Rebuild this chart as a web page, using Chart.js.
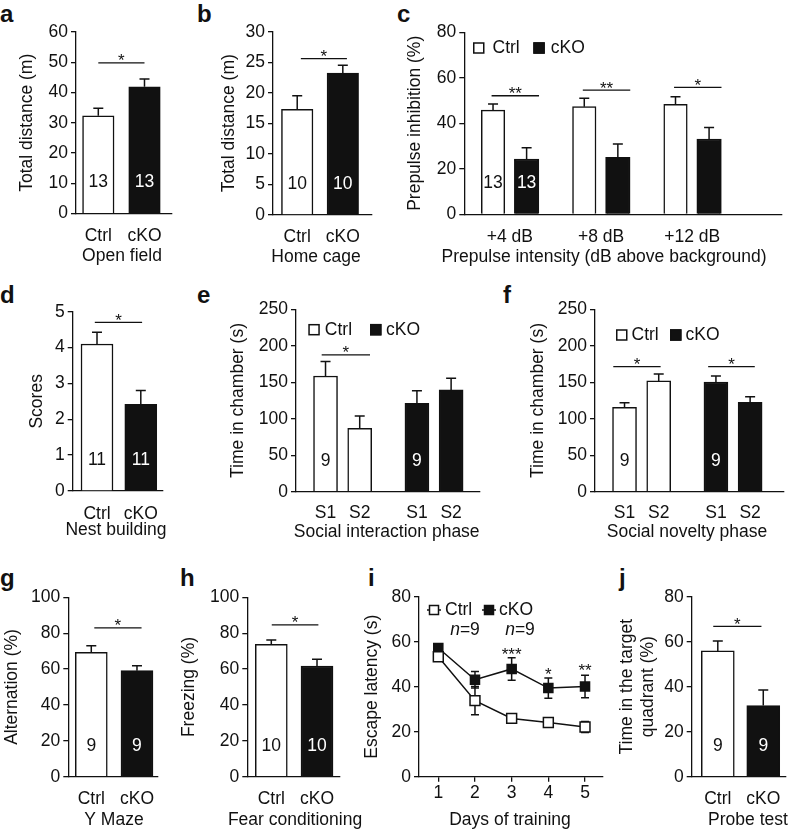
<!DOCTYPE html>
<html>
<head>
<meta charset="utf-8">
<script src="https://cdn.jsdelivr.net/npm/chart.js@4.4.0/dist/chart.umd.min.js"></script>
<style>
html,body{margin:0;padding:0;background:#fff;overflow:hidden;}
body{width:788px;height:830px;position:relative;font-family:"Liberation Sans",Arial,Helvetica,sans-serif;}
canvas{position:absolute;}
.lab{position:absolute;font-weight:bold;font-size:24px;line-height:24px;color:#111;}
</style>
</head>
<body>
<div class="lab" style="left:0px;top:2px">a</div>
<div class="lab" style="left:197px;top:2px">b</div>
<div class="lab" style="left:397px;top:2px">c</div>
<div class="lab" style="left:0px;top:283px">d</div>
<div class="lab" style="left:197px;top:283px">e</div>
<div class="lab" style="left:503px;top:283px">f</div>
<div class="lab" style="left:0px;top:566px">g</div>
<div class="lab" style="left:180px;top:566px">h</div>
<div class="lab" style="left:368px;top:566px">i</div>
<div class="lab" style="left:619px;top:566px">j</div>
<script>
// ---------------- data ----------------
const groups = ['Ctrl', 'cKO'];
// a  Open field
const openFieldMean = [32.3, 41.9];
const openFieldSem = [2.5, 2.6];
const openFieldN = [13, 13];
// b  Home cage
const homeCageMean = [17.3, 23.2];
const homeCageSem = [2.2, 1.3];
const homeCageN = [10, 10];
// c  Prepulse inhibition
const ppiLevels = ['+4 dB', '+8 dB', '+12 dB'];
const ppiCtrl = [45.8, 47.3, 48.3];
const ppiCtrlSem = [2.7, 3.7, 3.4];
const ppiCko = [24.3, 25.0, 33.1];
const ppiCkoSem = [5.0, 5.9, 5.1];
const ppiN = [13, 13];
const ppiSig = ['**', '**', '*'];
// d  Nest building
const nestMean = [4.1, 2.42];
const nestSem = [0.33, 0.38];
const nestN = [11, 11];
// e  Social interaction
const chambers = ['S1', 'S2'];
const socialCtrl = [158.6, 86.9];
const socialCtrlSem = [19.7, 16.9];
const socialCko = [121.2, 139.5];
const socialCkoSem = [17.3, 16.0];
const socialN = [9, 9];
// f  Social novelty
const noveltyCtrl = [115.7, 151.8];
const noveltyCtrlSem = [6.3, 9.6];
const noveltyCko = [150.4, 122.6];
const noveltyCkoSem = [8.2, 7.7];
const noveltyN = [9, 9];
// g  Y maze
const yMazeMean = [69.3, 59.1];
const yMazeSem = [3.7, 2.8];
const yMazeN = [9, 9];
// h  Fear conditioning
const fearMean = [73.8, 61.7];
const fearSem = [2.4, 3.7];
const fearN = [10, 10];
// i  Escape latency
const days = [1, 2, 3, 4, 5];
const latencyCtrl = [53.3, 33.8, 25.9, 24.1, 22.1];
const latencyCtrlSem = [1.5, 6.3, 1.5, 1.0, 2.4];
const latencyCko = [57.2, 43.1, 47.9, 39.4, 40.1];
const latencyCkoSem = [1.3, 3.7, 5.0, 4.5, 5.0];
const latencySig = ['', '', '***', '*', '**'];
const latencyN = [9, 9];
// j  Probe test
const probeMean = [55.9, 31.6];
const probeSem = [4.4, 6.9];
const probeN = [9, 9];

// ---------------- style ----------------
const FAM = '"Liberation Sans", Arial, Helvetica, sans-serif';
const INK = '#111111';
const FS = 17.5;
const LH = FS * 1.2;
Chart.defaults.font.family = FAM;
Chart.defaults.font.size = FS;
Chart.defaults.color = INK;
const measureCtx = document.createElement('canvas').getContext('2d');

function barStyle(i, w) {
  return {backgroundColor: i ? INK : '#ffffff', borderColor: INK, borderWidth: 1.5,
          barThickness: w, grouped: false};
}
function twoBars(mean, sem, w) {
  return [0, 1].map(i => Object.assign({
    label: groups[i], data: [{x: i, y: mean[i]}], errors: [sem[i]]
  }, barStyle(i, w)));
}
function nPair(n, xs) {
  return [{x: xs[0], t: n[0], white: false}, {x: xs[1], t: n[1], white: true}];
}

function makeDeco(p) {
  return {
    id: 'deco',
    beforeDatasetsDraw(chart) {
      const ctx = chart.ctx, ys = chart.scales.y;
      ctx.save();
      ctx.strokeStyle = INK; ctx.lineWidth = 1.5;
      chart.data.datasets.forEach((ds, di) => {
        if (!ds.errors) return;
        chart.getDatasetMeta(di).data.forEach((el, k) => {
          const v = ds.data[k].y, e = ds.errors[k];
          const x = el.x, cap = p.cap || 5;
          const yHi = ys.getPixelForValue(v + e);
          const yLo = p.twoSided ? ys.getPixelForValue(v - e) : el.y;
          ctx.beginPath();
          ctx.moveTo(x, yLo); ctx.lineTo(x, yHi);
          ctx.moveTo(x - cap, yHi); ctx.lineTo(x + cap, yHi);
          if (p.twoSided) { ctx.moveTo(x - cap, yLo); ctx.lineTo(x + cap, yLo); }
          ctx.stroke();
        });
      });
      ctx.restore();
    },
    afterDatasetsDraw(chart) {
      const ctx = chart.ctx, ca = chart.chartArea;
      const xs = chart.scales.x, ys = chart.scales.y;
      ctx.save();
      ctx.fillStyle = INK; ctx.strokeStyle = INK;
      (p.sig || []).forEach(s => {
        const y = ys.getPixelForValue(s.y);
        ctx.lineWidth = 1.3;
        ctx.beginPath();
        ctx.moveTo(xs.getPixelForValue(s.x0), y);
        ctx.lineTo(xs.getPixelForValue(s.x1), y);
        ctx.stroke();
        ctx.font = '17px ' + FAM; ctx.textAlign = 'center'; ctx.textBaseline = 'alphabetic';
        ctx.fillText(s.t, xs.getPixelForValue((s.x0 + s.x1) / 2), y + 3.5);
      });
      (p.stars || []).forEach(s => {
        ctx.font = '17px ' + FAM; ctx.textAlign = 'center'; ctx.textBaseline = 'alphabetic';
        ctx.fillText(s.t, xs.getPixelForValue(s.x), ys.getPixelForValue(s.y) + 9.7);
      });
      ctx.font = FS + 'px ' + FAM; ctx.textAlign = 'center'; ctx.textBaseline = 'middle';
      (p.nLabels || []).forEach(n => {
        ctx.fillStyle = n.white ? '#ffffff' : INK;
        ctx.fillText(String(n.t), xs.getPixelForValue(n.x), ca.bottom - 31);
      });
      if (p.legend) {
        const L = p.legend, y = ca.top + L.dy, s = 11.5;
        L.items.forEach(it => {
          const x = ca.left + it.dx;
          ctx.lineWidth = 1.5;
          ctx.fillStyle = it.fill;
          ctx.fillRect(x, y - s / 2, s, s);
          ctx.strokeStyle = INK;
          ctx.strokeRect(x + 0.75, y - s / 2 + 0.75, s - 1.5, s - 1.5);
          ctx.fillStyle = INK; ctx.textAlign = 'left'; ctx.textBaseline = 'middle';
          ctx.font = FS + 'px ' + FAM;
          ctx.fillText(it.label, x + s + it.gap, y + 0.5);
        });
      }
      if (p.lineLegend) {
        const L = p.lineLegend, y = ca.top + L.dy;
        L.items.forEach(it => {
          const cx = ca.left + it.dx;
          ctx.strokeStyle = INK; ctx.lineWidth = 1.5;
          ctx.beginPath(); ctx.moveTo(cx - 7, y); ctx.lineTo(cx + 7, y); ctx.stroke();
          ctx.fillStyle = it.fill; ctx.fillRect(cx - 4.5, y - 4.5, 9, 9);
          ctx.strokeRect(cx - 4.5, y - 4.5, 9, 9);
          ctx.fillStyle = INK; ctx.textAlign = 'left'; ctx.textBaseline = 'middle';
          ctx.font = FS + 'px ' + FAM;
          ctx.fillText(it.label, ca.left + it.tx, y + 0.5);
        });
        (L.nTexts || []).forEach(nt => {
          const cx = ca.left + nt.dx, yy = ca.top + nt.dy;
          ctx.font = 'italic ' + FS + 'px ' + FAM;
          const w1 = ctx.measureText('n').width;
          ctx.font = FS + 'px ' + FAM;
          const rest = '=' + nt.n;
          const w2 = ctx.measureText(rest).width;
          const x0 = cx - (w1 + w2) / 2;
          ctx.textAlign = 'left'; ctx.textBaseline = 'middle';
          ctx.font = 'italic ' + FS + 'px ' + FAM;
          ctx.fillText('n', x0, yy);
          ctx.font = FS + 'px ' + FAM;
          ctx.fillText(rest, x0 + w1, yy);
        });
      }
      ctx.restore();
    },
    afterDraw(chart) {
      // x-axis title, centred where the reference has it (no width clamp)
      const ctx = chart.ctx;
      ctx.save();
      ctx.fillStyle = INK; ctx.font = FS + 'px ' + FAM;
      ctx.textAlign = 'center'; ctx.textBaseline = 'middle';
      ctx.fillText(p.xTitle, p.xTitleX - p._left, p.xTitleY - p._top);
      ctx.restore();
    }
  };
}

function makePanel(p) {
  measureCtx.font = FS + 'px ' + FAM;
  const tw = measureCtx.measureText(p.xTitle).width;
  const yTitleLeft = p.yTitleX - LH / 2;
  const left = Math.floor(Math.min(yTitleLeft, p.xTitleX - tw / 2 - 4));
  const top = Math.round(p.plotT - 16);
  const right = Math.ceil(Math.max(p.plotR + 10, p.xTitleX + tw / 2 + 4));
  const bottom = Math.round(p.xTitleY + LH / 2 + 2);
  const padLeft = yTitleLeft - left;
  p._left = left; p._top = top;
  const cv = document.createElement('canvas');
  cv.width = right - left; cv.height = bottom - top;
  cv.style.left = left + 'px'; cv.style.top = top + 'px';
  cv.style.width = (right - left) + 'px'; cv.style.height = (bottom - top) + 'px';
  document.body.appendChild(cv);
  new Chart(cv, {
    type: p.type || 'bar',
    data: {datasets: p.datasets},
    options: {
      responsive: false, maintainAspectRatio: false, animation: false, devicePixelRatio: 1,
      layout: {padding: {left: padLeft, top: p.plotT - top, right: right - p.plotR, bottom: 0}},
      plugins: {legend: {display: false}, tooltip: {enabled: false}},
      scales: {
        x: {
          type: 'linear', min: p.xMin, max: p.xMax, offset: false,
          grid: {display: !!p.xTickMarks, drawOnChartArea: false, drawTicks: true, tickLength: 5,
                 color: INK, lineWidth: 1.3, offset: false},
          border: {display: true, color: INK, width: 1.3},
          ticks: {padding: p.tickPad, autoSkip: false, maxRotation: 0, minRotation: 0, color: INK,
                  font: {size: FS}, callback: (v, i) => p.xLabels[i]},
          afterBuildTicks: (s) => { s.ticks = p.xTickPos.map(v => ({value: v})); },
          afterFit: (s) => { s.height = bottom - p.plotB; },
          title: {display: false}
        },
        y: {
          min: 0, max: p.yMax,
          ticks: {stepSize: p.step, padding: 3, color: INK, font: {size: FS}},
          grid: {drawOnChartArea: false, drawTicks: true, tickLength: 5, color: INK, lineWidth: 1.3},
          border: {display: true, color: INK, width: 1.3},
          afterFit: (s) => { s.width = p.plotL - yTitleLeft; },
          title: {display: true, text: p.yTitle, color: INK, font: {size: FS}, padding: {top: 0, bottom: 0}}
        }
      }
    },
    plugins: [makeDeco(p)]
  });
}

// ---------------- panels ----------------
const offC = 0.184, offEF = 0.187;

// a
makePanel({plotL: 76, plotR: 171.7, plotT: 32, plotB: 213.6, yTitleX: 26.7, xTitleY: 256.5, xTitleX: 122,
  xMin: -0.483, xMax: 1.589, yMax: 60, step: 10, tickPad: 7.5,
  xTickPos: [0, 1], xLabels: groups, yTitle: 'Total distance (m)', xTitle: 'Open field',
  datasets: twoBars(openFieldMean, openFieldSem, 31.5),
  sig: [{x0: 0, x1: 1, y: 49.8, t: '*'}], nLabels: nPair(openFieldN, [0, 1])});

// b
makePanel({plotL: 273, plotR: 372, plotT: 31.7, plotB: 214.8, yTitleX: 229.5, xTitleY: 257, xTitleX: 316,
  xMin: -0.531, xMax: 1.64, yMax: 30, step: 5, tickPad: 6.7,
  xTickPos: [0, 1], xLabels: groups, yTitle: 'Total distance (m)', xTitle: 'Home cage',
  datasets: twoBars(homeCageMean, homeCageSem, 31.5),
  sig: [{x0: 0.08, x1: 1.09, y: 25.6, t: '*'}], nLabels: nPair(homeCageN, [0, 1])});

// c
makePanel({plotL: 464.3, plotR: 781.7, plotT: 32.3, plotB: 214.3, yTitleX: 415.5, xTitleY: 256.7, xTitleX: 604,
  xMin: 0.501, xMax: 3.98, yMax: 80, step: 20, tickPad: 7,
  xTickPos: ppiLevels.map((c, i) => i + 1), xLabels: ppiLevels,
  yTitle: 'Prepulse inhibition (%)', xTitle: 'Prepulse intensity (dB above background)',
  datasets: [
    Object.assign({label: 'Ctrl', data: ppiLevels.map((c, i) => ({x: i + 1 - offC, y: ppiCtrl[i]})), errors: ppiCtrlSem}, barStyle(0, 23.5)),
    Object.assign({label: 'cKO', data: ppiLevels.map((c, i) => ({x: i + 1 + offC, y: ppiCko[i]})), errors: ppiCkoSem}, barStyle(1, 24.5))
  ],
  sig: ppiSig.map((t, i) => ({x0: i + 1 - 0.2, x1: i + 1 + 0.32, y: [52.1, 54.6, 55.8][i], t})),
  nLabels: nPair(ppiN, [1 - offC, 1 + offC]),
  legend: {dy: 15.7, items: [{dx: 8.7, fill: '#ffffff', label: 'Ctrl', gap: 8}, {dx: 69, fill: INK, label: 'cKO', gap: 6}]}});

// d
makePanel({plotL: 72.7, plotR: 163, plotT: 311.7, plotB: 491, yTitleX: 36.7, xTitleY: 530, xTitleX: 116,
  xMin: -0.555, xMax: 1.507, yMax: 5, step: 1, tickPad: 7.8,
  xTickPos: [0, 1], xLabels: groups, yTitle: 'Scores', xTitle: 'Nest building',
  datasets: twoBars(nestMean, nestSem, 32),
  sig: [{x0: -0.05, x1: 1.03, y: 4.7, t: '*'}], nLabels: nPair(nestN, [0, 1])});

// e
makePanel({plotL: 296, plotR: 480, plotT: 309.3, plotB: 491.7, yTitleX: 237.7, xTitleY: 532, xTitleX: 386.7,
  xMin: -0.51, xMax: 1.503, yMax: 250, step: 50, tickPad: 6.1,
  xTickPos: [-offEF, offEF, 1 - offEF, 1 + offEF], xLabels: chambers.concat(chambers),
  yTitle: 'Time in chamber (s)', xTitle: 'Social interaction phase',
  datasets: [
    Object.assign({label: 'Ctrl', data: chambers.map((c, k) => ({x: k ? offEF : -offEF, y: socialCtrl[k]})), errors: socialCtrlSem}, barStyle(0, 24)),
    Object.assign({label: 'cKO', data: chambers.map((c, k) => ({x: 1 + (k ? offEF : -offEF), y: socialCko[k]})), errors: socialCkoSem}, barStyle(1, 24))
  ],
  sig: [{x0: -0.229, x1: 0.3, y: 187.4, t: '*'}],
  nLabels: nPair(socialN, [-offEF, 1 - offEF]),
  legend: {dy: 20.4, items: [{dx: 12.3, fill: '#ffffff', label: 'Ctrl', gap: 5}, {dx: 74, fill: INK, label: 'cKO', gap: 4.5}]}});

// f
makePanel({plotL: 595, plotR: 783.3, plotT: 309.3, plotB: 491.7, yTitleX: 537.7, xTitleY: 532, xTitleX: 687,
  xMin: -0.51, xMax: 1.55, yMax: 250, step: 50, tickPad: 6,
  xTickPos: [-offEF, offEF, 1 - offEF, 1 + offEF], xLabels: chambers.concat(chambers),
  yTitle: 'Time in chamber (s)', xTitle: 'Social novelty phase',
  datasets: [
    Object.assign({label: 'Ctrl', data: chambers.map((c, k) => ({x: k ? offEF : -offEF, y: noveltyCtrl[k]})), errors: noveltyCtrlSem}, barStyle(0, 24)),
    Object.assign({label: 'cKO', data: chambers.map((c, k) => ({x: 1 + (k ? offEF : -offEF), y: noveltyCko[k]})), errors: noveltyCkoSem}, barStyle(1, 24))
  ],
  sig: [{x0: -0.31, x1: 0.208, y: 171.4, t: '*'}, {x0: 0.728, x1: 1.238, y: 171.4, t: '*'}],
  nLabels: nPair(noveltyN, [-offEF, 1 - offEF]),
  legend: {dy: 25.7, items: [{dx: 21, fill: '#ffffff', label: 'Ctrl', gap: 4}, {dx: 75, fill: INK, label: 'cKO', gap: 4}]}});

// g
makePanel({plotL: 68.3, plotR: 158, plotT: 597.3, plotB: 776.7, yTitleX: 11.7, xTitleY: 820, xTitleX: 114,
  xMin: -0.503, xMax: 1.46, yMax: 100, step: 20, tickPad: 7.1,
  xTickPos: [0, 1], xLabels: groups, yTitle: 'Alternation (%)', xTitle: 'Y Maze',
  datasets: twoBars(yMazeMean, yMazeSem, 32),
  sig: [{x0: 0.066, x1: 1.1, y: 83, t: '*'}], nLabels: nPair(yMazeN, [0, 1])});

// h
makePanel({plotL: 247.3, plotR: 340, plotT: 597.3, plotB: 776.7, yTitleX: 189, xTitleY: 820, xTitleX: 295,
  xMin: -0.525, xMax: 1.503, yMax: 100, step: 20, tickPad: 7,
  xTickPos: [0, 1], xLabels: groups, yTitle: 'Freezing (%)', xTitle: 'Fear conditioning',
  datasets: twoBars(fearMean, fearSem, 32),
  sig: [{x0: 0.01, x1: 1.03, y: 84.6, t: '*'}], nLabels: nPair(fearN, [0, 1])});

// i
makePanel({type: 'line', plotL: 419, plotR: 603, plotT: 596.7, plotB: 776.7, yTitleX: 372.5, xTitleY: 820, xTitleX: 510,
  xMin: 0.474, xMax: 5.49, yMax: 80, step: 20, tickPad: 1.1, xTickMarks: true, twoSided: true, cap: 4,
  xTickPos: days, xLabels: days.map(String), yTitle: 'Escape latency (s)', xTitle: 'Days of training',
  datasets: [
    {label: 'Ctrl', data: days.map((d, k) => ({x: d, y: latencyCtrl[k]})), errors: latencyCtrlSem,
     borderColor: INK, borderWidth: 1.5, tension: 0, fill: false, pointStyle: 'rect', pointRadius: 7,
     pointBackgroundColor: '#ffffff', pointBorderColor: INK, pointBorderWidth: 1.5},
    {label: 'cKO', data: days.map((d, k) => ({x: d, y: latencyCko[k]})), errors: latencyCkoSem,
     borderColor: INK, borderWidth: 1.5, tension: 0, fill: false, pointStyle: 'rect', pointRadius: 6.4,
     pointBackgroundColor: INK, pointBorderColor: INK, pointBorderWidth: 1.5}
  ],
  stars: latencySig.map((t, k) => ({x: days[k], y: [0, 0, 56.3, 47.4, 49.2][k], t})).filter(s => s.t),
  lineLegend: {dy: 13.3, items: [{dx: 15, tx: 26, fill: '#ffffff', label: 'Ctrl'}, {dx: 70, tx: 80, fill: INK, label: 'cKO'}],
    nTexts: [{dx: 46, dy: 33.3, n: latencyN[0]}, {dx: 101, dy: 33.3, n: latencyN[1]}]}});

// j
makePanel({plotL: 691.7, plotR: 786, plotT: 596.7, plotB: 776.7, yTitleX: 627.5, xTitleY: 820, xTitleX: 748,
  xMin: -0.574, xMax: 1.5, yMax: 80, step: 20, tickPad: 7,
  xTickPos: [0, 1], xLabels: groups, yTitle: ['Time in the target', 'quadrant (%)'], xTitle: 'Probe test',
  datasets: twoBars(probeMean, probeSem, 33),
  sig: [{x0: -0.1, x1: 0.96, y: 66.8, t: '*'}], nLabels: nPair(probeN, [0, 1])});
</script>
</body>
</html>
